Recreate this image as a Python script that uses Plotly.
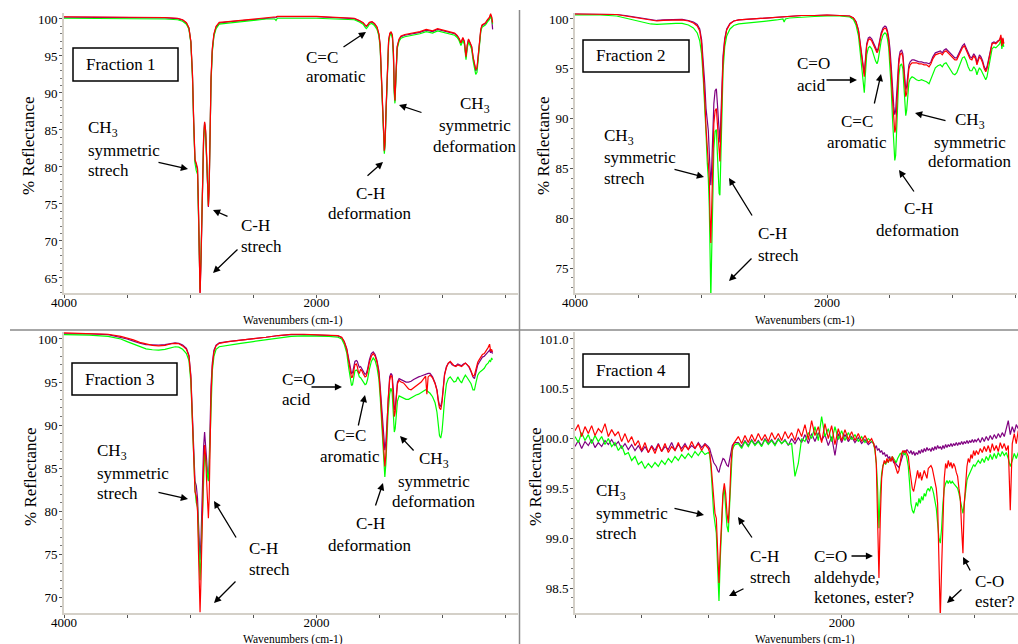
import plotly.graph_objects as go

W, H = 1018, 644
SERIF = "Liberation Serif, Times New Roman, Times, DejaVu Serif, serif"
PURPLE, GREEN, RED = "#800080", "#00ff00", "#ff0000"
AXIS_LINE = "#d4d0c8"

# ---------------- Fraction 1 ----------------
P1_WN = [4000, 3800, 3600, 3400, 3200, 3100, 3060, 3030, 3010, 2995,
         2982, 2972, 2962, 2952, 2942, 2934, 2928, 2922, 2914, 2904,
         2894, 2886, 2878, 2870, 2862, 2856, 2850, 2843, 2835, 2825,
         2812, 2795, 2770, 2700, 2600, 2500, 2400, 2330, 2320, 2310,
         2200, 2100, 2000, 1900, 1800, 1700, 1660, 1630, 1615, 1605,
         1595, 1580, 1560, 1540, 1520, 1505, 1495, 1485, 1475, 1468,
         1462, 1456, 1448, 1438, 1428, 1418, 1408, 1398, 1390, 1384,
         1378, 1370, 1360, 1345, 1330, 1300, 1260, 1220, 1180, 1130,
         1080, 1040, 1000, 965, 935, 905, 885, 870, 855, 840,
         828, 815, 805, 795, 782, 770, 758, 748, 738, 728,
         718, 708, 698, 688, 675, 660, 645, 630, 620, 612,
         604]
P1_RED = [100.3, 100.3, 100.3, 100.25, 100.2, 100.1, 99.9, 99.5, 98.8, 97.0,
          92.5, 86.0, 81.0, 80.5, 79.8, 74.0, 66.0, 62.5, 68.0, 78.5,
          84.0, 86.1, 85.0, 81.5, 77.0, 74.7, 77.0, 85.0, 92.0, 96.0,
          98.0, 99.0, 99.55, 99.65, 99.8, 100.0, 100.2, 100.3, 100.3, 100.35,
          100.4, 100.35, 100.35, 100.3, 100.25, 100.1, 99.8, 99.5, 99.2, 99.05,
          99.2, 99.55, 99.65, 99.4, 98.9, 98.0, 96.5, 93.0, 88.5, 85.0,
          82.2, 83.5, 88.0, 94.5, 97.2, 98.1, 98.3, 97.8, 95.5, 91.0,
          89.0, 92.5, 96.3, 97.3, 97.7, 97.9, 98.0, 98.2, 98.3, 98.6,
          98.4, 98.7, 98.5, 98.3, 98.2, 98.1, 97.8, 97.4, 96.8, 97.5,
          97.0, 94.9, 96.5, 97.3, 96.8, 96.3, 94.8, 93.9, 93.2, 93.4,
          95.5, 97.0, 98.6, 99.2, 99.3, 99.5, 99.9, 100.2, 100.7, 100.3,
          99.5]
P1_GREEN = [100.1, 100.1, 100.1, 100.05, 100.0, 99.9, 99.7, 99.3, 98.6, 96.8,
            92.0, 85.5, 80.5, 79.5, 79.0, 73.0, 66.5, 63.5, 68.5, 78.0,
            83.5, 85.8, 84.5, 81.0, 76.5, 74.8, 77.5, 85.0, 91.5, 95.5,
            97.7, 98.7, 99.3, 99.45, 99.6, 99.8, 100.0, 100.0, 99.8, 100.1,
            100.15, 100.1, 100.1, 100.05, 100.0, 99.9, 99.6, 99.3, 98.9, 98.7,
            98.9, 99.3, 99.4, 99.1, 98.6, 97.7, 96.0, 92.5, 88.0, 84.5,
            81.8, 83.0, 87.5, 94.0, 96.8, 97.8, 98.0, 97.4, 95.0, 90.0,
            88.6, 92.0, 96.0, 97.0, 97.4, 97.6, 97.7, 97.9, 98.0, 98.3,
            98.1, 98.4, 98.2, 98.0, 97.9, 97.8, 97.5, 97.1, 96.4, 97.1,
            96.6, 94.5, 96.1, 96.9, 96.4, 95.9, 94.3, 93.2, 92.5, 92.8,
            95.0, 96.6, 98.3, 98.9, 99.0, 99.2, 99.6, 99.9, 100.3, 100.0,
            99.3]
P1_PURPLE = [100.25, 100.25, 100.25, 100.2, 100.15, 100.05, 99.85, 99.45, 98.75, 96.9,
             92.3, 85.8, 80.8, 80.3, 79.6, 73.5, 65.5, 63.0, 67.5, 78.2,
             83.8, 86.0, 84.8, 81.3, 76.8, 74.6, 77.2, 85.0, 91.8, 95.8,
             97.9, 98.9, 99.45, 99.6, 99.75, 99.95, 100.15, 100.25, 100.2, 100.3,
             100.35, 100.3, 100.3, 100.25, 100.2, 100.05, 99.75, 99.45, 99.15, 99.0,
             99.15, 99.5, 99.6, 99.35, 98.85, 97.9, 96.4, 92.8, 88.3, 84.8,
             82.1, 83.3, 87.8, 94.3, 97.1, 98.0, 98.2, 97.7, 95.3, 90.6,
             88.9, 92.3, 96.2, 97.2, 97.6, 97.8, 97.9, 98.1, 98.2, 98.5,
             98.3, 98.6, 98.4, 98.2, 98.1, 98.0, 97.7, 97.3, 96.7, 97.4,
             96.9, 94.8, 96.4, 97.2, 96.7, 96.2, 94.7, 93.7, 93.0, 93.2,
             95.3, 96.9, 98.5, 99.1, 99.2, 99.4, 99.8, 100.1, 100.5, 100.2,
             98.6]

# ---------------- Fraction 2 ----------------
P2_WN = [4000, 3800, 3670, 3600, 3500, 3450, 3400, 3350, 3300, 3200,
         3150, 3100, 3060, 3030, 3010, 2995, 2982, 2970, 2960, 2950,
         2942, 2934, 2928, 2922, 2916, 2908, 2898, 2888, 2878, 2870,
         2862, 2856, 2850, 2844, 2836, 2825, 2812, 2796, 2770, 2740,
         2700, 2600, 2500, 2400, 2350, 2340, 2330, 2300, 2200, 2100,
         2000, 1900, 1820, 1790, 1770, 1750, 1735, 1722, 1712, 1704,
         1696, 1685, 1672, 1660, 1645, 1630, 1615, 1603, 1595, 1585,
         1570, 1555, 1540, 1530, 1520, 1510, 1500, 1490, 1480, 1470,
         1462, 1455, 1448, 1440, 1430, 1420, 1408, 1398, 1390, 1382,
         1375, 1368, 1360, 1350, 1340, 1325, 1310, 1290, 1270, 1250,
         1230, 1210, 1190, 1175, 1160, 1140, 1120, 1100, 1085, 1070,
         1055, 1040, 1020, 1000, 985, 970, 955, 940, 925, 910,
         895, 880, 865, 850, 835, 820, 810, 800, 790, 778,
         765, 752, 740, 730, 718, 705, 690, 675, 660, 645,
         630, 620, 612, 604, 597]
P2_RED = [100.5, 100.5, 100.45, 100.3, 100.1, 99.95, 99.85, 99.8, 99.85, 99.9,
          99.9, 99.8, 99.6, 99.3, 98.8, 97.5, 95.0, 92.0, 89.0, 87.3,
          86.0, 84.0, 80.0, 77.5, 80.5, 86.0, 89.5, 90.8, 91.0, 89.5,
          87.5, 86.0, 85.7, 88.0, 92.5, 95.8, 97.8, 98.9, 99.5, 99.8,
          99.9, 100.0, 100.1, 100.2, 100.25, 100.2, 100.25, 100.3, 100.35, 100.35,
          100.4, 100.35, 100.3, 100.1, 99.7, 98.8, 97.3, 95.8, 94.5, 94.2,
          95.5, 97.3, 97.9, 98.0, 97.8, 97.3, 96.8, 96.6, 96.8, 97.5,
          98.4, 98.9, 99.1, 99.0, 98.6, 97.8, 96.5, 94.5, 92.0, 89.8,
          88.6, 89.0, 91.0, 93.5, 95.5, 96.4, 96.6, 96.2, 94.8, 93.0,
          92.2, 92.5, 94.0, 95.0, 95.4, 95.6, 95.6, 95.6, 95.5, 95.5,
          95.4, 95.4, 95.2, 95.5, 96.0, 96.4, 96.5, 96.6, 96.4, 96.7,
          96.8, 96.6, 96.3, 96.0, 95.9, 95.9, 96.3, 96.8, 97.1, 97.3,
          96.9, 96.4, 96.0, 95.9, 96.3, 96.0, 95.4, 95.8, 96.2, 96.0,
          95.6, 95.0, 94.7, 95.0, 95.8, 96.8, 97.5, 97.6, 97.5, 97.7,
          97.9, 98.4, 97.3, 98.1, 97.5]
P2_PURPLE = [100.5, 100.5, 100.45, 100.35, 100.15, 100.0, 99.9, 99.85, 99.9, 99.95,
             99.95, 99.85, 99.7, 99.45, 99.0, 97.9, 95.8, 93.5, 91.0, 89.8,
             88.8, 86.5, 84.5, 83.3, 84.8, 88.5, 91.5, 92.8, 93.0, 91.5,
             89.5, 88.0, 87.6, 89.5, 93.5, 96.3, 98.0, 99.0, 99.55, 99.8,
             99.9, 100.0, 100.1, 100.2, 100.25, 100.2, 100.25, 100.3, 100.35, 100.35,
             100.4, 100.35, 100.3, 100.1, 99.75, 98.9, 97.5, 96.0, 94.8, 94.5,
             95.8, 97.5, 98.1, 98.2, 98.0, 97.5, 97.0, 96.8, 97.0, 97.7,
             98.6, 99.1, 99.3, 99.2, 98.8, 98.1, 97.0, 95.2, 93.0, 91.2,
             90.4, 90.8, 92.3, 94.3, 96.0, 96.7, 96.9, 96.5, 95.3, 93.6,
             92.9, 93.2, 94.5, 95.4, 95.7, 95.9, 95.9, 95.8, 95.7, 95.7,
             95.6, 95.6, 95.5, 95.7, 96.2, 96.6, 96.7, 96.8, 96.6, 96.9,
             97.0, 96.8, 96.5, 96.2, 96.1, 96.1, 96.5, 97.0, 97.3, 97.5,
             97.1, 96.6, 96.2, 96.1, 96.5, 96.2, 95.6, 96.0, 96.4, 96.2,
             95.8, 95.2, 94.9, 95.2, 96.0, 96.9, 97.6, 97.7, 97.6, 97.8,
             97.9, 98.2, 97.6, 98.0, 97.6]
P2_GREEN = [100.4, 100.4, 100.3, 100.1, 99.8, 99.6, 99.5, 99.45, 99.5, 99.55,
            99.55, 99.4, 99.1, 98.6, 97.8, 96.5, 94.0, 91.5, 88.5, 85.5,
            84.0, 81.0, 75.5, 72.0, 76.0, 83.0, 87.0, 88.7, 88.9, 86.5,
            84.0, 82.5, 82.3, 85.0, 90.5, 94.8, 97.2, 98.3, 99.0, 99.35,
            99.5, 99.6, 99.75, 99.9, 100.0, 99.7, 100.0, 100.1, 100.2, 100.25,
            100.3, 100.3, 100.2, 99.95, 99.4, 98.3, 96.5, 94.5, 93.2, 92.6,
            94.3, 96.4, 97.1, 97.25, 97.0, 96.3, 95.8, 95.5, 95.8, 96.6,
            97.8, 98.4, 98.6, 98.5, 98.0, 97.1, 95.5, 93.0, 90.0, 87.2,
            85.8, 86.3, 88.8, 92.0, 94.3, 95.3, 95.5, 95.0, 93.3, 91.3,
            90.3, 90.8, 92.5, 93.6, 94.0, 94.2, 94.1, 93.9, 93.8, 93.9,
            93.8, 93.7, 93.5, 94.0, 94.6, 95.1, 95.3, 95.4, 95.2, 95.5,
            95.6, 95.3, 94.9, 94.5, 94.4, 94.6, 95.1, 95.7, 96.1, 96.2,
            95.8, 95.2, 94.8, 94.8, 95.2, 94.9, 94.4, 94.8, 95.1, 94.9,
            94.6, 94.2, 93.9, 94.2, 95.0, 96.2, 97.0, 97.2, 97.1, 97.3,
            97.5, 97.9, 97.0, 97.7, 97.2]

# ---------------- Fraction 3 ----------------
P3_WN = [4000, 3800, 3650, 3550, 3500, 3450, 3400, 3350, 3300, 3250,
         3200, 3150, 3120, 3090, 3060, 3030, 3010, 2995, 2982, 2972,
         2962, 2952, 2942, 2934, 2928, 2922, 2914, 2904, 2894, 2886,
         2878, 2870, 2862, 2856, 2850, 2843, 2835, 2825, 2812, 2795,
         2770, 2700, 2600, 2500, 2400, 2300, 2200, 2100, 2000, 1900,
         1830, 1800, 1780, 1760, 1745, 1732, 1722, 1714, 1705, 1695,
         1684, 1676, 1668, 1660, 1650, 1640, 1628, 1615, 1605, 1595,
         1580, 1565, 1550, 1535, 1520, 1505, 1495, 1485, 1475, 1465,
         1458, 1450, 1442, 1432, 1420, 1410, 1400, 1390, 1383, 1376,
         1368, 1358, 1345, 1330, 1310, 1290, 1270, 1250, 1230, 1210,
         1190, 1170, 1150, 1135, 1125, 1115, 1100, 1080, 1060, 1045,
         1035, 1025, 1015, 1005, 995, 985, 970, 955, 940, 925,
         910, 895, 880, 865, 850, 835, 820, 805, 790, 775,
         760, 748, 735, 722, 710, 698, 685, 670, 655, 640,
         628, 620, 612, 605]
P3_RED = [100.7, 100.65, 100.55, 100.3, 100.1, 99.9, 99.6, 99.4, 99.25, 99.2,
          99.25, 99.45, 99.5, 99.45, 99.2, 98.8, 98.0, 95.5, 91.0, 86.0,
          82.3, 81.8, 80.0, 75.0, 69.0, 68.3, 72.5, 80.0, 85.5, 87.7,
          86.5, 83.5, 80.5, 79.2, 81.5, 88.0, 93.5, 96.8, 98.5, 99.2,
          99.5, 99.7, 99.85, 100.0, 100.2, 100.4, 100.55, 100.55, 100.5, 100.45,
          100.4, 100.2, 99.7, 98.8, 97.3, 96.0, 95.5, 95.6, 96.4, 97.0,
          97.1, 96.8, 96.2, 96.0, 96.5, 96.3, 95.9, 95.6, 95.7, 96.2,
          97.3, 98.0, 98.3, 98.0, 97.3, 96.0, 94.0, 91.5, 88.5, 85.7,
          85.2, 86.5, 89.5, 93.0, 95.2, 95.8, 95.5, 93.5, 91.0, 91.5,
          93.5, 94.8, 95.2, 95.0, 94.9, 94.5, 94.2, 94.1, 94.3, 94.5,
          94.8, 95.0, 95.4, 95.7, 93.6, 95.6, 95.8, 95.5, 94.8, 94.0,
          92.8, 92.0, 91.8, 92.6, 94.2, 95.8, 96.7, 97.2, 97.4, 97.1,
          96.9, 96.8, 97.0, 96.9, 96.8, 97.0, 97.2, 97.0, 96.8, 96.3,
          95.7, 95.8, 96.6, 97.3, 97.6, 97.9, 98.2, 98.3, 98.6, 99.0,
          99.4, 98.6, 98.8, 98.5]
P3_PURPLE = [100.6, 100.6, 100.5, 100.2, 100.0, 99.75, 99.5, 99.35, 99.3, 99.3,
             99.35, 99.5, 99.55, 99.5, 99.3, 98.9, 98.1, 95.8, 91.5, 86.5,
             83.5, 83.0, 81.5, 78.5, 74.8, 74.4, 77.0, 83.0, 87.5, 89.2,
             88.0, 86.0, 84.2, 83.6, 85.5, 90.0, 94.5, 97.2, 98.7, 99.3,
             99.55, 99.7, 99.85, 100.0, 100.2, 100.4, 100.5, 100.5, 100.45, 100.4,
             100.35, 100.15, 99.7, 98.9, 97.6, 96.4, 96.0, 96.1, 96.9, 97.4,
             97.5, 97.4, 97.0, 96.7, 96.8, 96.5, 96.1, 95.9, 96.0, 96.5,
             97.6, 98.3, 98.5, 98.2, 97.5, 96.3, 94.5, 92.3, 89.8, 87.6,
             87.1, 88.0, 90.5, 93.6, 95.6, 96.0, 95.8, 94.0, 91.8, 91.9,
             93.8, 95.0, 95.4, 95.3, 95.2, 95.0, 95.0, 95.1, 95.3, 95.5,
             95.6, 95.7, 95.8, 95.9, 96.0, 96.0, 96.0, 95.6, 94.9, 94.1,
             93.0, 92.3, 92.2, 92.9, 94.4, 95.9, 96.8, 97.2, 97.3, 97.0,
             96.9, 96.9, 97.1, 97.0, 96.9, 97.1, 97.2, 97.0, 96.7, 96.2,
             95.6, 95.4, 96.2, 97.0, 97.3, 97.6, 97.9, 98.0, 98.2, 98.5,
             98.7, 98.4, 98.6, 98.3]
P3_GREEN = [100.5, 100.45, 100.3, 100.0, 99.7, 99.4, 99.1, 98.85, 98.75, 98.7,
            98.8, 99.0, 99.1, 99.05, 98.8, 98.3, 97.5, 95.0, 90.5, 85.5,
            82.5, 81.0, 80.5, 77.0, 72.5, 72.0, 75.0, 80.0, 84.5, 86.7,
            86.0, 84.8, 83.8, 83.5, 85.0, 89.0, 93.0, 96.3, 98.0, 98.8,
            99.1, 99.3, 99.5, 99.7, 99.9, 100.1, 100.3, 100.35, 100.35, 100.3,
            100.2, 100.0, 99.4, 98.4, 96.7, 95.2, 94.6, 94.7, 95.6, 96.3,
            96.4, 96.3, 96.0, 95.6, 95.5, 95.3, 95.0, 94.7, 94.8, 95.3,
            96.5, 97.4, 97.8, 97.5, 96.7, 95.3, 93.3, 90.8, 87.8, 84.6,
            84.0, 85.5, 88.5, 91.5, 93.6, 94.3, 93.8, 91.5, 89.2, 89.6,
            91.5, 92.8, 93.4, 93.3, 93.1, 93.0, 93.0, 93.2, 93.4, 93.5,
            93.6, 93.8, 94.0, 94.1, 94.0, 93.9, 93.7, 93.3, 92.6, 91.5,
            90.0, 88.8, 88.5, 89.3, 91.0, 93.0, 94.8, 95.4, 95.6, 95.3,
            95.0, 95.1, 95.6, 95.2, 94.9, 95.4, 95.8, 95.5, 95.2, 94.8,
            94.1, 94.1, 95.0, 95.8, 96.1, 96.3, 96.4, 96.6, 97.0, 97.2,
            97.5, 97.4, 97.8, 97.6]

# ---------------- Fraction 4 ----------------
P4_WN = [4000, 3975, 3950, 3925, 3900, 3875, 3850, 3825, 3800, 3775,
         3750, 3725, 3700, 3675, 3650, 3625, 3600, 3575, 3550, 3525,
         3500, 3475, 3450, 3425, 3400, 3375, 3350, 3325, 3300, 3275,
         3250, 3225, 3200, 3175, 3150, 3125, 3100, 3075, 3050, 3025,
         3000,
         2990, 2980, 2970, 2960, 2950, 2940, 2930, 2920, 2910, 2900,
         2890, 2880, 2870, 2860, 2850, 2840, 2830, 2820, 2810, 2800,
         2775, 2750, 2725, 2700, 2675, 2650, 2625, 2600, 2575, 2550,
         2525, 2500, 2475, 2450, 2425, 2400, 2375, 2350, 2325, 2300,
         2275, 2250, 2225, 2200, 2175, 2150, 2125, 2100, 2075, 2050,
         2025, 2000, 1975, 1950, 1925, 1900, 1875, 1850, 1825, 1800,
         1775,
         1760, 1750, 1740, 1730, 1720, 1710, 1700, 1690, 1680, 1670,
         1660, 1650, 1640, 1630, 1620, 1610, 1600, 1590, 1580, 1570,
         1560, 1550, 1540, 1530, 1520, 1510, 1500, 1490, 1480, 1470,
         1460, 1450, 1440, 1430, 1420, 1410, 1400, 1390, 1380, 1370,
         1360, 1350, 1340, 1330, 1320, 1310, 1300, 1290, 1280, 1270,
         1260, 1250, 1240, 1230, 1220, 1210, 1200, 1190, 1180, 1170,
         1160, 1150, 1140, 1130, 1120, 1110, 1100, 1090, 1080, 1070,
         1060, 1050, 1040, 1030, 1020, 1010, 1000,
         990, 975, 960, 945, 930, 915, 900, 885, 870, 855,
         840, 825, 810, 795, 780, 765, 750, 735, 720, 705,
         690, 675]
P4_RED = [100.08, 100.14, 100.02, 100.12, 100.05, 100.13, 100.03, 100.10, 100.06, 100.15,
          100.02, 100.09, 100.03, 100.07, 99.97, 100.05, 99.96, 100.02, 99.93, 99.98,
          99.88, 99.96, 99.86, 99.92, 99.85, 99.94, 99.87, 99.95, 99.86, 99.92,
          99.88, 99.96, 99.87, 99.93, 99.89, 99.97, 99.9, 99.95, 99.88, 99.94,
          99.9,
          99.86, 99.75, 99.55, 99.35, 99.25, 99.2, 98.9, 98.55, 98.9, 99.25,
          99.45, 99.55, 99.45, 99.25, 99.15, 99.4, 99.75, 99.9, 99.95, 99.97,
          100.02, 99.95, 100.03, 99.96, 100.04, 99.97, 100.05, 99.98, 100.04, 99.97,
          100.06, 99.99, 100.05, 99.98, 100.07, 100.0, 100.06, 99.98, 100.1, 100.02,
          100.14, 99.99, 100.18, 100.03, 100.12, 99.96, 100.15, 100.0, 100.13, 99.94,
          100.1, 99.98, 100.09, 99.99, 100.07, 99.98, 100.05, 99.97, 100.03, 99.96,
          100.0,
          99.95, 99.9, 99.75, 99.3, 98.6, 99.2, 99.6, 99.72, 99.78, 99.75,
          99.8, 99.76, 99.8, 99.77, 99.82, 99.78, 99.74, 99.7, 99.65, 99.68,
          99.78, 99.85, 99.88, 99.86, 99.88, 99.85, 99.82, 99.7, 99.58, 99.5,
          99.47, 99.55, 99.6, 99.68, 99.6, 99.66, 99.58, 99.62, 99.68, 99.64,
          99.6, 99.7, 99.72, 99.73, 99.7, 99.62, 99.55, 99.5, 99.35, 98.9,
          98.2, 98.7, 99.3, 99.6, 99.75, 99.7, 99.78, 99.72, 99.76, 99.7,
          99.75, 99.72, 99.66, 99.62, 99.5, 99.4, 99.1, 98.85, 99.35, 99.6,
          99.72, 99.8, 99.76, 99.84, 99.8, 99.88, 99.83,
          99.88, 99.84, 99.9, 99.86, 99.92, 99.87, 99.93, 99.86, 99.95, 99.88,
          99.93, 99.87, 99.96, 99.9, 99.95, 99.88, 99.93, 99.28, 99.95, 100.05,
          99.95, 100.08]
P4_GREEN = [100.02, 99.96, 100.06, 99.98, 100.04, 99.95, 100.03, 99.97, 100.02, 99.94,
            100.0, 99.92, 99.96, 99.88, 99.93, 99.84, 99.86, 99.78, 99.82, 99.74,
            99.77, 99.7, 99.75, 99.71, 99.76, 99.72, 99.78, 99.74, 99.8, 99.76,
            99.82, 99.78, 99.84, 99.8, 99.85, 99.81, 99.87, 99.83, 99.88, 99.84,
            99.86,
            99.84, 99.7, 99.45, 99.25, 99.15, 99.05, 98.7, 98.37, 98.8, 99.2,
            99.42, 99.5, 99.3, 99.12, 99.06, 99.35, 99.7, 99.88, 99.92, 99.94,
            99.95, 99.9, 99.97, 99.92, 99.98, 99.93, 99.97, 99.92, 99.99, 99.94,
            99.98, 99.93, 99.99, 99.95, 99.98, 99.94, 99.95, 99.62, 99.75, 100.0,
            99.97, 100.06, 100.0, 100.12, 99.98, 100.22, 100.02, 100.1, 99.97, 100.12,
            99.99, 100.08, 99.98, 100.06, 99.99, 100.04, 99.97, 100.02, 99.96, 100.0,
            99.97,
            99.95, 99.88, 99.75, 99.5, 99.1, 99.45, 99.65, 99.73, 99.76, 99.74,
            99.78, 99.76, 99.8, 99.78, 99.82, 99.8, 99.78, 99.76, 99.8, 99.82,
            99.85, 99.84, 99.87, 99.84, 99.85, 99.8, 99.72, 99.55, 99.35, 99.28,
            99.25, 99.3, 99.36, 99.32, 99.4, 99.35, 99.42, 99.38, 99.45, 99.42,
            99.48, 99.5, 99.47, 99.52, 99.5, 99.45, 99.38, 99.3, 99.15, 99.0,
            98.95, 99.1, 99.35, 99.5, 99.55, 99.58, 99.55, 99.58, 99.55, 99.57,
            99.55, 99.53, 99.52, 99.5, 99.45, 99.38, 99.3, 99.25, 99.35, 99.5,
            99.58, 99.62, 99.65, 99.68, 99.7, 99.74, 99.72,
            99.74, 99.78, 99.75, 99.8, 99.76, 99.82, 99.78, 99.84, 99.79, 99.85,
            99.8, 99.86, 99.82, 99.87, 99.83, 99.86, 99.8, 99.72, 99.78, 99.85,
            99.8, 99.86]
P4_PURPLE = [99.92, 99.98, 99.9, 99.97, 99.93, 99.99, 99.91, 99.96, 99.92, 99.98,
             99.94, 99.99, 99.93, 99.97, 99.9, 99.95, 99.89, 99.94, 99.88, 99.93,
             99.87, 99.92, 99.86, 99.93, 99.88, 99.95, 99.87, 99.92, 99.89, 99.96,
             99.88, 99.94, 99.9, 99.95, 99.89, 99.93, 99.9, 99.96, 99.91, 99.95,
             99.92,
             99.9, 99.85, 99.8, 99.76, 99.74, 99.72, 99.68, 99.66, 99.72, 99.77,
             99.8, 99.79, 99.75, 99.73, 99.72, 99.8, 99.88, 99.93, 99.95, 99.96,
             99.96, 99.92, 99.98, 99.93, 99.99, 99.94, 99.98, 99.93, 100.0, 99.95,
             99.99, 99.94, 100.0, 99.95, 99.99, 99.93, 100.0, 99.95, 100.01, 99.96,
             100.04, 99.95, 100.05, 99.97, 100.06, 99.98, 100.04, 99.93, 100.02, 99.83,
             100.05, 99.96, 100.04, 99.97, 100.02, 99.96, 100.01, 99.95, 99.99, 99.94,
             99.97,
             99.95, 99.9, 99.93, 99.88, 99.9, 99.86, 99.88, 99.84, 99.86, 99.82,
             99.84, 99.8, 99.82, 99.78, 99.8, 99.76, 99.77, 99.74, 99.72, 99.71,
             99.75, 99.8, 99.84, 99.88, 99.86, 99.89, 99.87, 99.85, 99.88, 99.84,
             99.87, 99.83, 99.86, 99.84, 99.88, 99.85, 99.89, 99.86, 99.9, 99.87,
             99.91, 99.88, 99.9, 99.87, 99.91, 99.88, 99.92, 99.89, 99.93, 99.9,
             99.92, 99.89, 99.93, 99.9, 99.94, 99.91, 99.94, 99.92, 99.95, 99.92,
             99.95, 99.93, 99.96, 99.93, 99.96, 99.94, 99.97, 99.94, 99.97, 99.95,
             99.98, 99.95, 99.98, 99.96, 99.99, 99.96, 99.99,
             99.97, 100.0, 99.96, 100.01, 99.97, 100.02, 99.98, 100.03, 99.99, 100.04,
             100.0, 100.05, 100.01, 100.06, 100.02, 100.1, 100.18, 100.04, 100.12, 100.06,
             100.14, 100.1]

for wn, arrs in ((P1_WN, (P1_RED, P1_GREEN, P1_PURPLE)), (P2_WN, (P2_RED, P2_GREEN, P2_PURPLE)),
                 (P3_WN, (P3_RED, P3_GREEN, P3_PURPLE)), (P4_WN, (P4_RED, P4_GREEN, P4_PURPLE))):
    for a in arrs:
        assert len(a) == len(wn), (len(a), len(wn))

# ---------------- figure ----------------
fig = go.Figure()
panels = [
    (P1_WN, P1_PURPLE, P1_GREEN, P1_RED, "x", "y"),
    (P2_WN, P2_PURPLE, P2_GREEN, P2_RED, "x2", "y2"),
    (P3_WN, P3_PURPLE, P3_GREEN, P3_RED, "x3", "y3"),
    (P4_WN, P4_PURPLE, P4_GREEN, P4_RED, "x4", "y4"),
]
for wn, pu, gr, rd, xa, ya in panels:
    for vals, col in ((pu, PURPLE), (gr, GREEN), (rd, RED)):
        fig.add_trace(go.Scatter(x=wn, y=vals, mode="lines",
                                 line=dict(color=col, width=1.2),
                                 xaxis=xa, yaxis=ya, showlegend=False,
                                 hoverinfo="skip"))

TICKFONT = dict(family=SERIF, size=13, color="black")


def xcfg(x0, x1, anchor, rng, vals, texts):
    return dict(domain=[x0 / W, x1 / W], range=rng, anchor=anchor, automargin=False,
                showline=True, linecolor=AXIS_LINE, linewidth=2,
                ticks="outside", ticklen=3, tickwidth=1, tickcolor="#555",
                tickmode="array", tickvals=vals, ticktext=texts, ticklabelstandoff=-7,
                tickfont=TICKFONT, showgrid=False, zeroline=False)


def ycfg(y0, y1, anchor, rng, dtick, mdtick, fmt=None):
    d = dict(domain=[1 - y1 / H, 1 - y0 / H], range=rng, anchor=anchor, automargin=False,
             showline=True, linecolor=AXIS_LINE, linewidth=2,
             ticks="outside", ticklen=3, tickwidth=1, tickcolor="#555",
             tickmode="linear", tick0=0, dtick=dtick, ticklabelstandoff=-1,
             tickfont=TICKFONT, showgrid=False, zeroline=False,
             minor=dict(tickmode="linear", tick0=0, dtick=mdtick, ticks="outside",
                        ticklen=2, tickwidth=1, tickcolor="#777", showgrid=False))
    if fmt:
        d["tickformat"] = fmt
    return d


XT = [4000, 3500, 3000, 2500, 2000, 1500, 1000, 500]
XT_TXT = ["4000", "", "", "", "2000", "", "", ""]
XT4 = [4000, 3500, 3000, 2500, 2000, 1500, 1000]
XT4_TXT = ["", "", "", "", "2000", "", ""]

fig.update_layout(
    template="none",
    width=W, height=H, margin=dict(l=0, r=0, t=0, b=0, pad=0, autoexpand=False),
    paper_bgcolor="white", plot_bgcolor="white",
    font=dict(family=SERIF, color="black"),
    xaxis=xcfg(64, 518, "y", [4000, 403], XT, XT_TXT),
    yaxis=ycfg(13, 293, "x", [62.97, 100.81], 5, 1),
    xaxis2=xcfg(575, 1017, "y2", [4000, 492], XT, XT_TXT),
    yaxis2=ycfg(13, 293, "x2", [72.49, 100.6], 5, 1),
    xaxis3=xcfg(64, 518, "y3", [4000, 403], XT, XT_TXT),
    yaxis3=ycfg(332, 613, "x3", [68.21, 100.81], 5, 1),
    xaxis4=xcfg(575, 1018, "y4", [4000, 677], XT4, XT4_TXT),
    yaxis4=ycfg(332, 613, "x4", [98.249, 101.07], 0.5, 0.1, ".1f"),
)

ann = []
shapes = []


def T(x, y, s, anchor="left", size=17, angle=0):
    ann.append(dict(x=x / W, y=1 - y / H, xref="paper", yref="paper", text=s,
                    showarrow=False, xanchor=anchor, yanchor="middle",
                    textangle=angle, font=dict(family=SERIF, size=size, color="black")))


def A(x0, y0, x1, y1):
    ann.append(dict(x=x1 / W, y=1 - y1 / H, xref="paper", yref="paper", text="",
                    showarrow=True, ax=x0 - x1, ay=y0 - y1, axref="pixel", ayref="pixel",
                    arrowhead=2, arrowsize=1.1, arrowwidth=1.3, arrowcolor="black",
                    standoff=0, startstandoff=0))


def BOX(x0, y0, x1, y1, label):
    shapes.append(dict(type="rect", xref="paper", yref="paper",
                       x0=x0 / W, x1=x1 / W, y0=1 - y1 / H, y1=1 - y0 / H,
                       line=dict(color="black", width=1.5), fillcolor="white", layer="above"))
    T(x0 + 11, (y0 + y1) / 2, label)


CH3 = "CH<sub>3</sub>"

# axis titles
for x, y in ((28, 146), (543, 146), (30, 477), (535, 477)):
    T(x, y, "% Reflectance", anchor="center", angle=-90)
for x, y in ((293, 320), (805, 320), (293, 639), (805, 639)):
    T(x, y, "Wavenumbers (cm-1)", anchor="center", size=11.5)

# Panel 1
BOX(73, 48, 178, 81, "Fraction 1")
T(86, 129, CH3); T(86, 150, "symmetric"); T(86, 170, "strech")
A(157, 162, 188, 169)
T(239, 226, "C-H"); T(239, 246, "strech")
A(229, 217, 213, 210); A(239, 248, 213, 273)
T(304, 57, "C=C"); T(304, 77, "aromatic")
A(342, 48, 366, 32)
T(370, 193, "C-H", "center"); T(370, 213, "deformation", "center")
A(366, 177, 383, 162)
T(475, 105, CH3, "center"); T(475, 126, "symmetric", "center"); T(475, 146, "deformation", "center")
A(423, 113, 399, 105)

# Panel 2
BOX(583, 40, 689, 72, "Fraction 2")
T(795, 64, "C=O"); T(795, 85, "acid")
A(825, 80, 857, 80)
T(857, 121, "C=C", "center"); T(857, 142, "aromatic", "center")
A(874, 105, 881, 74)
T(602, 137, CH3); T(602, 158, "symmetric"); T(602, 178, "strech")
A(673, 169, 704, 177)
T(756, 233, "C-H"); T(756, 255, "strech")
A(753, 217, 729, 178); A(753, 257, 729, 281)
T(918, 209, "C-H", "center"); T(918, 230, "deformation", "center")
A(915, 193, 899, 170)
T(970, 121, CH3, "center"); T(970, 142, "symmetric", "center"); T(970, 162, "deformation", "center")
A(947, 121, 915, 113)

# Panel 3
BOX(72, 363, 177, 395, "Fraction 3")
T(280, 379, "C=O"); T(280, 400, "acid")
A(310, 387, 342, 387)
T(350, 435, "C=C", "center"); T(350, 456, "aromatic", "center")
A(358, 427, 365, 395)
T(95, 452, CH3); T(95, 473, "symmetric"); T(95, 493, "strech")
A(157, 492, 188, 499)
T(247, 548, "C-H"); T(247, 569, "strech")
A(237, 539, 214, 501); A(237, 580, 214, 603)
T(370, 523, "C-H", "center"); T(370, 545, "deformation", "center")
A(375, 507, 383, 483)
T(434, 460, CH3, "center"); T(434, 481, "symmetric", "center"); T(434, 501, "deformation", "center")
A(415, 452, 400, 436)

# Panel 4
BOX(583, 354, 689, 387, "Fraction 4")
T(594, 492, CH3); T(594, 513, "symmetric"); T(594, 533, "strech")
A(673, 508, 704, 515)
T(748, 556, "C-H"); T(748, 577, "strech")
A(753, 539, 738, 517); A(745, 588, 729, 596)
T(812, 556, "C=O"); A(850, 556, 873, 556)
T(812, 577, "aldehyde,"); T(812, 597, "ketones, ester?")
T(973, 581, "C-O"); T(973, 601, "ester?")
A(971, 572, 963, 557); A(963, 588, 947, 603)

# panel separators
shapes.append(dict(type="line", xref="paper", yref="paper", x0=519.5 / W, x1=519.5 / W,
                   y0=0, y1=1 - 10 / H, line=dict(color="#8a8a8a", width=1.5)))
shapes.append(dict(type="line", xref="paper", yref="paper", x0=10 / W, x1=1,
                   y0=1 - 330 / H, y1=1 - 330 / H, line=dict(color="#8a8a8a", width=1.5)))

fig.update_layout(annotations=ann, shapes=shapes)
fig.write_html("out.html", config={"displayModeBar": False},
               post_script="document.body.style.margin='0px';document.body.style.overflow='hidden';")
